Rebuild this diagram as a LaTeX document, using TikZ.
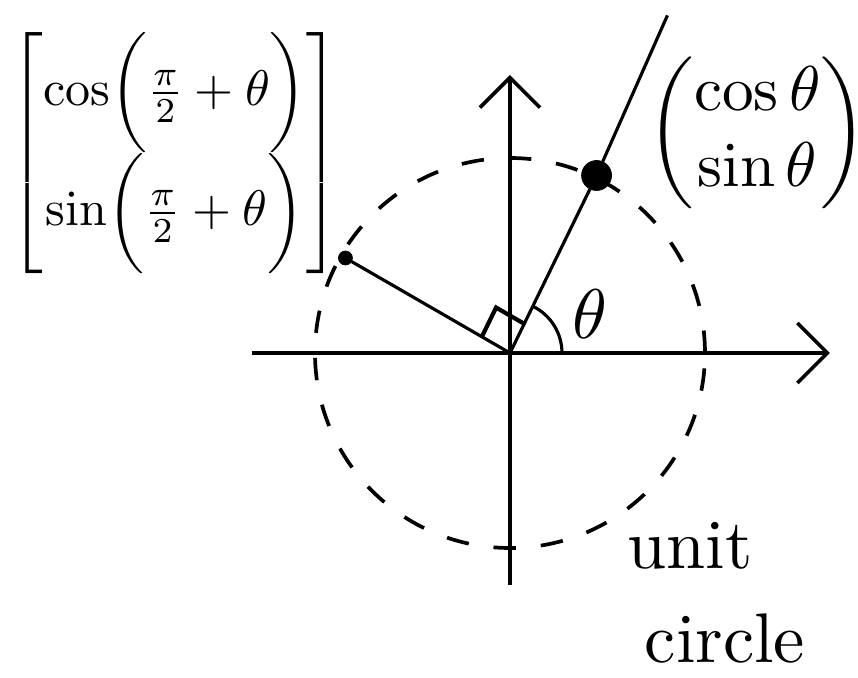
\documentclass[tikz,border=0pt]{standalone}
\usepackage{amsmath,amssymb}
\usepackage{tikz}
\usetikzlibrary{positioning,calc}
\usetikzlibrary{arrows.meta}
\tikzset{
  axis/.style={draw=black,line width=2.1pt,-{Straight Barb[length=0.6cm,width=1.2cm,line width=2.1pt]}},
  unitcirc/.style={draw=black,line width=2.1pt,dash pattern=on 0.45cm off 0.5cm},
  ray/.style={draw=black,line width=1.8pt},
}
\tikzset{dot/.style={circle,fill=black,draw=black,inner sep=0pt}, lab/.style={inner sep=0pt,transform shape}}

\begin{document}
\begin{tikzpicture}[scale=1]
\useasboundingbox (-10.2,-6.5) rectangle (6.96,7.06);
\coordinate (O) at (0,0);
\coordinate (xl) at (-5.16,0);
\coordinate (xr) at (6.4,0);
\coordinate (yb) at (0,-4.64);
\coordinate (yt) at (0,5.56);
\coordinate (rayend) at (65:7.45);
\draw[unitcirc] (O) circle (3.9);
\draw[axis] (xl)--(xr);
\draw[axis] (yb)--(yt);
\node[dot,minimum size=0.6cm] (P) at (64:3.95) {};
\node[dot,minimum size=0.28cm] (Q) at (150:3.8) {};
\draw[ray] (O)--(P)--(rayend);
\draw[ray] (O)--(Q);
% right angle and theta arc
\draw[ray,line width=2.4pt] (64:0.65) -- ($(64:0.65)+(150:0.65)$) -- (150:0.65);
\draw[ray] (1.04,0) arc (0:64:1.04);
\node[lab,scale=4] (th) at (1.6,0.78) {$\theta$};
% vectors
\node[lab,scale=2.85] (rot) at (-6.7,4.0)
  {$\begin{bmatrix}\cos\biggl(\frac{\pi}{2}+\theta\biggr)\\ \sin\biggl(\frac{\pi}{2}+\theta\biggr)\end{bmatrix}$};
\node[lab,scale=3.6] (vec) at (4.95,4.4)
  {$\begin{pmatrix}\cos\theta\\ \sin\theta\end{pmatrix}$};
\node[lab,scale=4] (unit) at (3.6,-3.85) {unit};
\node[lab,scale=4] (circ) at (4.3,-5.7) {circle};
\end{tikzpicture}
\end{document}
